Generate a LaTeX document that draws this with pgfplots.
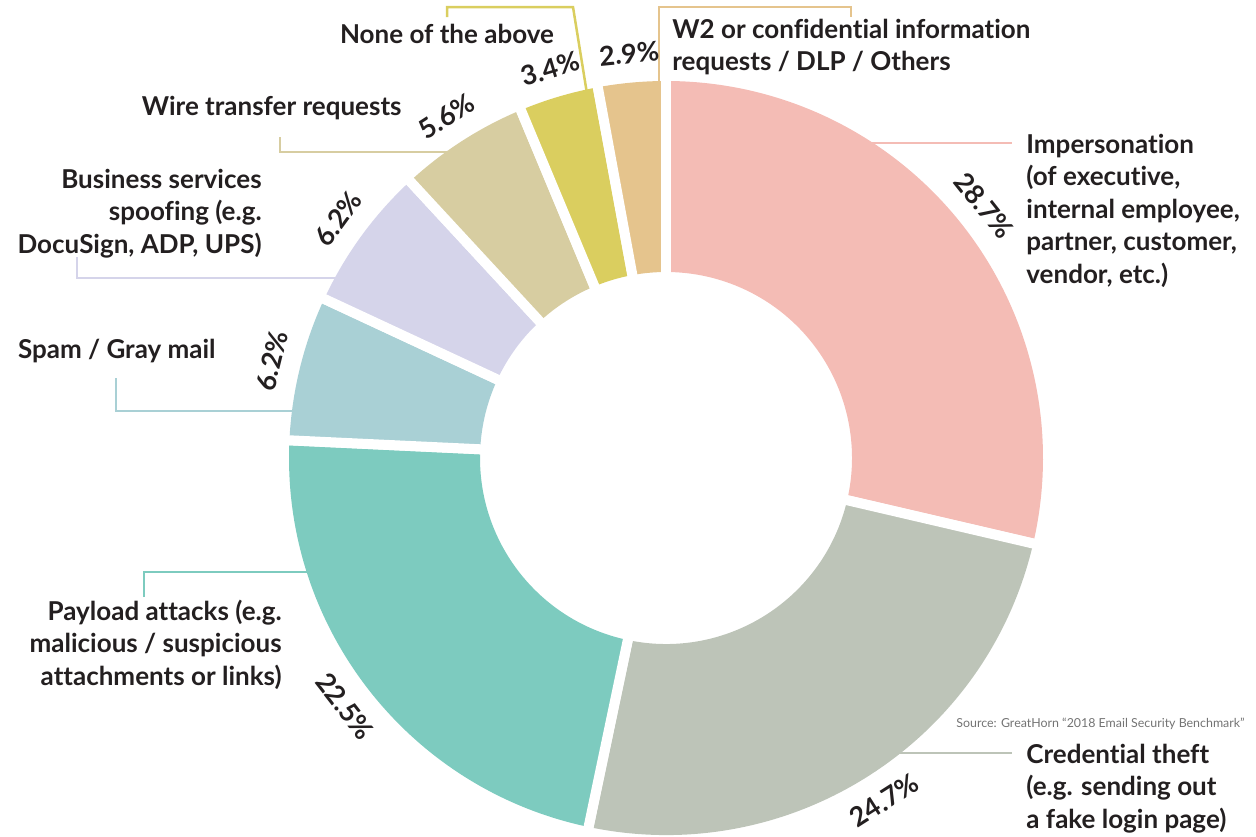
\documentclass[border=0pt]{standalone}
\usepackage{pgfplots}
\pgfplotsset{compat=1.18}
\usepackage{pgfplotstable}
\usepackage{fontspec}
\setmainfont{Lato}[Ligatures=NoCommon]

\definecolor{cImp}{HTML}{F4BCB5}
\definecolor{cCred}{HTML}{BDC4B8}
\definecolor{cPay}{HTML}{7DCBBF}
\definecolor{cSpam}{HTML}{A9D0D5}
\definecolor{cBus}{HTML}{D5D4EA}
\definecolor{cWire}{HTML}{D7CDA1}
\definecolor{cNone}{HTML}{DACE5F}
\definecolor{cW2}{HTML}{E5C48D}
\definecolor{txt}{HTML}{231F20}

\newcommand\lbl{\fontsize{13}{16.25}\selectfont\bfseries}
\newcommand\pct{\fontsize{13.5}{15}\selectfont\bfseries}

% share of each category, clockwise from 12 o'clock
\pgfplotstableread{
share col
28.7 cImp
24.7 cCred
22.5 cPay
6.2 cSpam
6.2 cBus
5.6 cWire
3.4 cNone
2.9 cW2
}\slices

\begin{document}
\begin{tikzpicture}[lab/.style={font=\lbl, text=txt, inner sep=0pt}]
\begin{axis}[
  hide axis, scale only axis,
  x=0.5pt, y=0.5pt, y dir=reverse,
  xmin=0, xmax=1256, ymin=0, ymax=836,
  clip=false,
  every axis plot/.append style={no marks, line width=1.25pt},
]
% leader lines
\addplot[cImp] coordinates {(850,143) (1012,143)};
\addplot[cCred] coordinates {(880,753) (1012,753)};
\addplot[cPay] coordinates {(144,597) (144,572) (320,572)};
\addplot[cSpam] coordinates {(116,378) (116,411) (305,411)};
\addplot[cBus] coordinates {(77,257) (77,278) (350,278)};
\addplot[cWire] coordinates {(280,137) (280,152) (460,152)};
\addplot[cNone] coordinates {(447,17) (447,7) (573,7) (588,100)};
\addplot[cW2] coordinates {(659,100) (659,7) (851,7) (851,17)};

% ring
\pgfplotsextra{%
  \xdef\tot{0}%
  \pgfplotstableforeachcolumnelement{share}\of\slices\as\v{%
    \pgfmathsetmacro\t{\tot+\v}\xdef\tot{\t}}%
  \xdef\acc{90}%
  \pgfplotstablegetrowsof{\slices}%
  \pgfmathtruncatemacro\last{\pgfplotsretval-1}%
  \foreach \i in {0,...,\last}{%
    \pgfplotstablegetelem{\i}{share}\of\slices \let\v\pgfplotsretval
    \pgfplotstablegetelem{\i}{col}\of\slices \let\slicecol\pgfplotsretval
    \pgfmathsetmacro\aa{\acc}%
    \pgfmathsetmacro\bb{\acc-\v/\tot*360}%
    \pgfmathsetmacro\mm{(\aa+\bb)/2}%
    \pgfmathsetmacro\rot{sin(\mm)>=0 ? \mm-90 : \mm+90}%
    \fill[fill=\slicecol] (axis cs:{666+377*cos(\aa)},{458-377*sin(\aa)})
      arc[start angle=\aa, end angle=\bb, radius=188.5pt]
      -- (axis cs:{666+186*cos(\bb)},{458-186*sin(\bb)})
      arc[start angle=\bb, end angle=\aa, radius=93pt] -- cycle;
    \draw[white, line width=5pt] (axis cs:{666+180*cos(\aa)},{458-180*sin(\aa)}) -- (axis cs:{666+385*cos(\aa)},{458-385*sin(\aa)});
    \draw[white, line width=5pt] (axis cs:{666+180*cos(\bb)},{458-180*sin(\bb)}) -- (axis cs:{666+385*cos(\bb)},{458-385*sin(\bb)});
    \node[rotate=\rot, font=\pct, text=txt] at (axis cs:{666+406*cos(\mm)},{458-406*sin(\mm)}) {\v\%};
    \xdef\acc{\bb}%
  }%
}

% category labels (multi-line nodes: base = last line)
\node[lab, anchor=base] at (axis cs:447,43) {None of the above};
\node[lab, anchor=base west, align=left] at (axis cs:672,70.5) {W2 or confidential information\\requests / DLP / Others};
\node[lab, anchor=base west, align=left] at (axis cs:1026,283) {Impersonation\\(of executive,\\internal employee,\\partner, customer,\\vendor, etc.)};
\node[lab, anchor=base west, align=left] at (axis cs:1026,828) {Credential theft\\(e.g. sending out\\a fake login page)};
\node[lab, anchor=base east] at (axis cs:402,115) {Wire transfer requests};
\node[lab, anchor=base east, align=right] at (axis cs:262,253) {Business services\\spoofing (e.g.\\DocuSign, ADP, UPS)};
\node[lab, anchor=base east] at (axis cs:216,358) {Spam / Gray mail};
\node[lab, anchor=base east, align=right] at (axis cs:282,685) {Payload attacks (e.g.\\malicious / suspicious\\attachments or links)};
\node[anchor=base east, inner sep=0pt, font=\fontsize{6.2}{7}\selectfont, text=black!55] at (axis cs:1245,727) {Source: GreatHorn “2018 Email Security Benchmark”};
\end{axis}
\pgfresetboundingbox
\path (current axis.south west) rectangle (current axis.north east);
\end{tikzpicture}
\end{document}
